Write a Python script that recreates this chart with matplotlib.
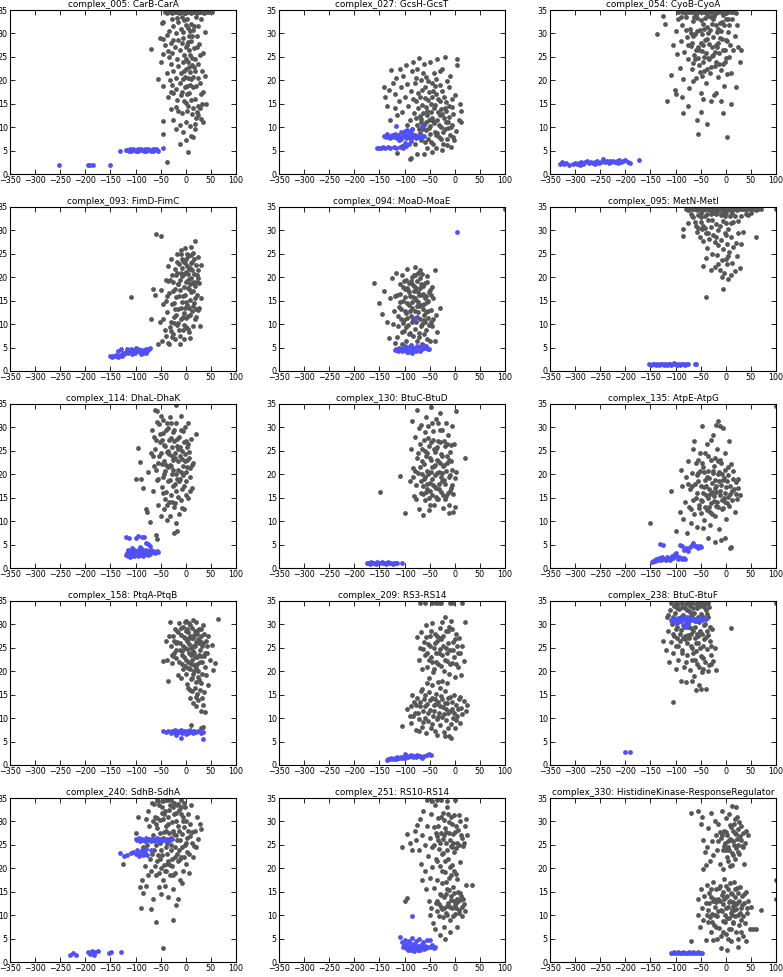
import matplotlib
matplotlib.use("Agg")
import matplotlib.pyplot as plt

titles = ["complex_005: CarB-CarA", "complex_027: GcsH-GcsT", "complex_054: CyoB-CyoA",
          "complex_093: FimD-FimC", "complex_094: MoaD-MoaE", "complex_095: MetN-MetI",
          "complex_114: DhaL-DhaK", "complex_130: BtuC-BtuD", "complex_135: AtpE-AtpG",
          "complex_158: PtqA-PtqB", "complex_209: RS3-RS14", "complex_238: BtuC-BtuF",
          "complex_240: SdhB-SdhA", "complex_251: RS10-RS14", "complex_330: HistidineKinase-ResponseRegulator"]

x_ticks = [-350, -300, -250, -200, -150, -100, -50, 0, 50, 100]
y_ticks = [0, 5, 10, 15, 20, 25, 30, 35]

gray_005 = [(-42,34.5),(-38,34.4),(-35,34.6),(-30,34.5),(-27,34.4),(-24,34.5),(-20,34.6),(-17,34.5),(-14,34.4),(-10,34.5),(-7,34.6),(-4,34.5),(-1,34.4),(2,34.5),(5,34.6),(8,34.5),(11,34.4),(14,34.5),(17,34.6),(20,34.5),(23,34.4),(26,34.5),(29,34.6),(33,34.5),(37,34.4),(42,34.5),(47,34.6),(52,34.5),
 (-48,32.3),(-45,32.5),(-52,29),(-45,28.8),(-38,29.6),(-33,30.5),(-30,28),(-25,31.5),(-20,30),(-15,32.5),(-10,31),(-5,30.2),(0,31.8),(3,33),(6,29.5),(10,32),(14,30.7),(20,33.5),(25,31.5),(30,33),(38,30.4),
 (-42,27.5),(-35,26.3),(-28,25.8),(-22,27),(-18,24.5),(-12,26.5),(-8,28),(-3,25.5),(2,27.5),(7,26.5),(11,28.3),(16,26.8),(22,27),(28,25.5),(35,25.8),(-70,26.6),(-50,23.8),
 (-45,25.7),(-30,23.5),(-25,22),(-20,20.5),(-15,23),(-10,21.5),(-5,23.8),(0,22.5),(5,24),(8,21.8),(12,23.2),(18,22),(24,23.5),(32,22),(38,21),(-55,20.2),(-45,18.8),(-38,21.5),(-32,20),(-27,19),(-20,18.2),(-12,19.5),(-6,20.2),(-1,18.5),(4,20.5),(9,19),(15,20.6),(20,18.8),(28,19.5),(35,17.5),
 (-35,16.5),(-25,17.2),(-18,15.7),(-10,16.8),(-3,15.5),(3,17),(10,15.8),(18,16),(25,14.6),(32,15),(40,15),(-30,13.8),(-20,14.2),(-8,13),(2,13.5),(12,12.8),(22,13.3),(30,11.8),(-25,11.5),(-12,10.5),(0,11),(8,10.3),(18,10.6),(34,11),(-45,11.3),(-45,8.5),(-5,9),(10,8.2),(-12,6.5),(0,7.2),(15,8),(5,4.8),(-38,2.6),(-20,9.5),(25,12.5),
 (-8,33.5),(-3,32.8),(4,31.2),(8,30.5),(12,29.5),(16,31.5),(-6,29),(0,27),(5,28.2),(9,25.5),(13,24.8),(17,22.8),(1,24.5),(-4,22),(6,22.8),(10,20.2),(14,18.5),(-2,20.8),(3,18.8),(7,17.2),(-7,17.5),(0,15.2),(5,14.5),(15,14),(20,12),(-15,28.5),(-18,33.3),(-25,28.5),(22,29.5),(27,27.8),(18,24.5),(24,20.5),(30,17),(-28,33),(-2,34.3),(-33,25),(19,9.5),(28,14),(-30,17.5),(-15,13.5)]
blue_005 = [(-252,1.9),(-195,1.9),(-190,1.9),(-185,1.9),(-150,1.9),(-130,5.0),(-120,5.1),(-117,5.2),(-114,5.0),(-111,5.3),(-108,5.1),(-105,5.4),(-102,5.2),(-99,5.0),(-96,5.3),(-93,5.1),(-90,5.4),(-87,5.2),(-84,5.0),(-81,5.3),(-78,5.1),(-75,5.4),(-72,5.2),(-69,5.0),(-66,5.3),(-63,5.1),(-60,5.4),(-57,5.2),(-55,5.0),(-45,5.5),(-110,4.9),(-95,4.9),(-80,4.9),(-65,4.9)]

gray_027 = [(-138,16.5),(-135,14.5),(-130,18),(-127,22.3),(-124,19.5),(-120,17),(-117,20.5),(-115,12.5),(-112,15.5),(-110,22.5),(-108,18.5),(-105,13.3),(-103,21),(-100,16.5),(-98,23.2),(-95,19.3),(-93,14.5),(-90,11.5),(-88,17.8),(-86,22),(-84,24),(-82,13),(-80,19.5),(-78,15.5),(-76,10.5),(-75,22.5),(-73,17.3),(-71,24.7),(-70,12.3),(-68,20),(-66,14.8),(-65,18),(-63,9.5),(-62,23.5),(-60,16.3),(-58,11.2),(-57,20.8),(-55,13.5),(-54,7.5),(-52,17.5),(-50,24),(-49,10.2),(-48,15),(-46,19.5),(-45,12),(-44,6.3),(-42,21.5),(-41,14),(-40,9),(-38,17),(-36,11.5),(-35,24.5),(-33,13.2),(-32,7.8),(-30,19),(-29,15.5),(-28,10),(-26,22.5),(-25,12.8),(-24,6.5),(-22,16.5),(-20,9.5),(-19,25),(-18,13.5),(-16,7.5),(-15,19.8),(-13,11),(-12,14.5),(-10,8.3),(-9,21),(-8,5.8),(-6,16),(-5,10.5),(-3,12.8),(-2,7.2),(0,16.8),(2,9.2),(4,24.5),(5,23.2),(8,11.5),(10,15),(12,13.5),(13,11.2),(-90,3.3),(-88,3.5),(-115,4.5),(-105,6),(-75,4.2),(-62,4.2),(-55,5.5),(-45,4.8),(-85,9.5),(-70,8.8),(-60,6.8),(-50,8.5),(-35,8.7),(-25,5.2),(-15,6.2),(-80,6.5),(-95,10.5),(-128,11.5),(-140,18.5),(-120,14),(-58,14.3),(-45,16.5),(-37,20.3),(-68,11),(-52,11.5),(-42,10.8),(-30,12.5),(-20,14),(-5,14.2),
 (-78,12),(-74,14),(-72,9.5),(-69,16.5),(-67,11.8),(-64,13),(-61,10.5),(-59,18.5),(-56,12.5),(-53,15.8),(-51,9.8),(-47,13.3),(-44,17.8),(-43,11.3),(-39,14.8),(-37,8.3),(-34,16),(-31,10.5),(-27,13.8),(-23,9),(-21,12),(-17,15.3),(-14,9.8),(-11,12.2),(-7,10),(-4,7.8),(-67,7.3),(-57,9.3),(-47,6.8),(-38,5.5),(-28,7.5),(-18,11),(-83,16),(-77,20.5),(-64,21.5),(-53,19.8),(-40,18.8),(-30,22),(-25,17.8),(-12,18.5)]
blue_027 = [(-140,8.2),(-137,7.8),(-134,8.5),(-131,8.0),(-128,7.6),(-125,8.3),(-122,7.9),(-119,8.6),(-116,7.7),(-113,8.4),(-110,8.0),(-107,7.5),(-104,8.7),(-101,8.1),(-98,7.7),(-95,8.4),(-92,8.0),(-89,7.6),(-86,8.5),(-83,7.9),(-80,8.3),(-77,7.7),(-74,8.2),(-71,8.0),(-68,8.4),(-65,7.9),(-62,8.1),(-108,9.0),(-100,9.2),(-90,9.0),(-85,9.5),(-95,9.3),(-118,10.3),(-65,10.2),(-112,7.2),(-88,7.1),(-155,5.5),(-150,5.6),(-146,5.5),(-142,5.7),(-138,5.6),(-133,5.8),(-128,5.6),(-122,5.7),(-117,5.5),(-110,5.8),(-103,5.6),(-97,5.9),(-92,6.3),(-100,6.6)]

gray_054 = [(-95,34.5),(-88,34.5),(-82,34.4),(-76,34.5),(-70,34.6),(-65,34.5),(-60,34.4),(-55,34.5),(-50,34.6),(-45,34.5),(-40,34.4),(-35,34.5),(-30,34.6),(-25,34.5),(-20,34.4),(-15,34.5),(-10,34.6),(-5,34.5),(0,34.4),(5,34.5),(10,34.6),(15,34.5),(20,34.4),
 (-137,29.8),(-125,33.8),(-122,32.1),(-118,15.5),(-105,27.5),(-100,30.5),(-98,25.7),(-95,33),(-92,22.7),(-90,28.3),(-88,31.8),(-85,20.2),(-83,26),(-80,33.5),(-78,29.2),(-76,24.5),(-74,18.3),(-72,31),(-70,27.3),(-68,22.5),(-66,32.7),(-64,25.5),(-62,29.8),(-60,20.5),(-58,33.2),(-56,27),(-54,23.3),(-52,30.7),(-50,17.2),(-48,26.2),(-46,32),(-44,22),(-42,28.5),(-40,19.5),(-38,31.3),(-36,24.7),(-34,27.8),(-32,21.5),(-30,33.5),(-28,25.2),(-26,29.3),(-24,16.8),(-22,23),(-20,31.8),(-18,27.2),(-16,20.8),(-14,25.8),(-12,29),(-10,22.3),(-8,32.5),(-6,26.5),(-4,18.7),(-2,24),(0,28.7),(2,21.3),(4,30.3),(6,25),(8,27.5),(10,21.5),(12,33),(15,26.5),(18,29.5),(20,18.5),(22,31.8),(25,27),(28,23.9),(30,26.4),(-100,17),(-102,18),(-88,16.5),(-85,13),(-75,14.5),(-65,19.8),(-55,8.5),(-58,11.5),(-50,13.2),(-45,16),(-38,10.7),(-30,15.5),(-20,17.3),(-10,15.5),(-5,13),(3,8),(10,15),(-70,30),(-60,26.5),(-45,24),(-35,30),(-25,33),(-15,31),(-5,34),(5,33),(-80,30.8),(-90,33.5),(-110,21.2),(-50,28),(-40,25.8),(-20,27.5),(0,24.8),(-65,23.7),(-30,22.8),
 (-68,28),(-63,33.5),(-61,24.5),(-57,30.5),(-53,26.5),(-49,32.8),(-47,29.8),(-43,25),(-41,33.3),(-37,28.8),(-33,24.5),(-31,30.8),(-27,27),(-23,33.8),(-21,26),(-17,30.3),(-13,23.5),(-11,32.3),(-7,28.8),(-3,31.8),(-1,26.5),(3,28.3),(7,31.8),(-65,29.5),(-55,24.7),(-45,27.5),(-35,33.8),(-25,25.3),(-15,28),(-5,23.5),(-75,27.5),(-52,21.8),(-38,22.5),(-20,23.8),(-9,30.5),(-59,34),(-44,31),(-28,32),(1,33),(-48,21)]
blue_054 = [(-330,2.2),(-327,2.5),(-322,2.1),(-318,2.3),(-312,2.0),(-305,2.2),(-300,2.4),(-296,2.1),(-292,2.3),(-288,2.6),(-284,2.2),(-280,2.5),(-276,2.7),(-272,2.4),(-268,2.6),(-264,2.3),(-260,2.5),(-256,2.8),(-252,2.4),(-248,2.6),(-244,3.1),(-240,2.5),(-236,2.7),(-232,2.4),(-228,2.6),(-224,2.8),(-220,2.5),(-216,2.7),(-212,2.9),(-208,2.6),(-204,2.8),(-200,3.0),(-195,2.6),(-190,2.4),(-172,2.9),(-290,2.0),(-260,2.2),(-230,2.8),(-215,2.4)]

gray_093 = [(-110,15.7),(-60,29.2),(-50,28.8),(-70,11),(-65,17.5),(-62,16.3),(-48,6.5),(-55,5.8),(-52,10.5),(-45,14.3),(-42,8.7),(-40,19.5),(-38,12.5),(-36,6),(-35,22.5),(-33,16.7),(-32,9.3),(-30,24),(-28,14.2),(-27,7.2),(-25,19),(-24,11.6),(-22,21.8),(-21,6.8),(-20,15.8),(-18,25),(-17,9.8),(-16,18.5),(-15,13.2),(-14,22.8),(-12,7.5),(-11,17.3),(-10,25.8),(-9,11),(-8,20.3),(-7,14.8),(-6,8.7),(-5,23.5),(-4,18),(-3,12.3),(-2,26.3),(-1,16.2),(0,9.3),(1,21.2),(2,14),(3,19.3),(4,24.6),(5,11.8),(6,17.5),(7,8.3),(8,22),(9,15.2),(10,26.5),(11,19.8),(12,12.7),(13,23.2),(14,17),(15,9.5),(16,20.7),(17,14.6),(18,27.8),(19,18.2),(20,22.7),(21,11.5),(22,16.3),(23,20.5),(24,24.3),(25,13),(26,18.8),(28,9.7),(30,22.6),(30,15.6),(-50,17.2),(-45,11),(-40,15),(-35,19.2),(-30,10.5),(-25,8),(-20,12),(-15,18.5),(-10,21),(-5,16),(0,19),(5,20.8),(10,23),(-28,20.5),(-18,23.3),(-8,24),(2,25),(-12,5.8),(-3,6.8),(8,7),(-33,5.7),(-22,17.5),(-1,13.5),(15,25.2),(20,13.3),(-40,7.5),(6,13.5),(-15,10.3),(25,19.8),(12,21.5),
 (-23,14.5),(-19,20.5),(-13,16),(-9,13.5),(-7,22),(-3,20.8),(0,14.8),(3,22.5),(4,17.8),(7,19.7),(9,12),(11,24.8),(14,13.8),(16,23.8),(18,11),(22,19),(-26,17),(-21,13.3),(-17,21),(-11,19.5),(-6,11.5),(-2,23),(1,11.3),(6,21.8),(13,18.8),(19,15.5),(24,21.5),(27,13.5),(-29,8.5),(-23,10.3),(-14,8.8),(-4,9.8),(5,9),(-37,16),(-31,19.5),(10,16.8),(17,19),(-9,25),(0,24),(8,18.5)]
blue_093 = [(-150,3.2),(-147,3.0),(-144,3.3),(-141,3.1),(-138,3.4),(-135,3.0),(-132,3.3),(-129,3.5),(-126,3.1),(-123,3.6),(-135,4.2),(-128,4.6),(-120,4.0),(-118,4.6),(-115,3.8),(-112,4.3),(-110,4.8),(-107,4.0),(-104,4.5),(-101,3.8),(-98,4.2),(-95,4.7),(-92,4.1),(-89,4.5),(-86,3.9),(-83,4.4),(-80,4.8),(-77,4.2),(-74,4.6),(-71,4.9),(-100,4.9),(-90,3.7),(-108,3.6),(-125,3.9),(-80,3.8)]

gray_094 = [(-160,18.7),(-150,14.5),(-145,12.2),(-140,17),(-135,10.5),(-130,7),(-128,15.5),(-125,19.8),(-122,12.8),(-120,6),(-118,21),(-116,16.3),(-114,9.5),(-112,13.7),(-110,18.5),(-108,11),(-106,20.5),(-104,15),(-102,8.5),(-100,17.6),(-98,12.3),(-96,21.8),(-95,14.5),(-93,9.8),(-91,18.8),(-90,16),(-88,11.7),(-86,20),(-85,13.5),(-83,7.5),(-82,17),(-80,22.3),(-78,10.5),(-77,15.2),(-75,19.3),(-73,12.5),(-72,8.2),(-70,17.8),(-68,14),(-66,20.8),(-65,10),(-63,16.5),(-61,12),(-60,18.7),(-58,8.8),(-56,14.7),(-55,20.2),(-53,11.3),(-51,16.8),(-50,6.5),(-48,13),(-46,18),(-45,9.5),(-43,15.5),(-40,21.5),(-40,6.5),(-38,12),(-35,8.3),(-30,13.5),(-115,7.2),(-105,5.8),(-97,6.5),(-87,5.5),(-75,6.3),(-65,5.8),(-55,6.8),(-110,14.8),(-100,12.7),(-92,14),(-84,15.8),(-76,13.8),(-70,11.2),(-62,14.3),(-54,12.8),(-47,16.3),(-120,16),(-102,19.3),(-94,17.2),(-86,10.5),(-80,12.8),(-72,16.2),(-67,18.5),(-57,16),(-124,10),(-89,8.2),(-79,20.5),(-69,21.5),(-59,10.5),(-44,11),(-103,10.2),(-81,18.2),(-64,13.2),(-74,14.8),(100,34.5),
 (-109,16.5),(-107,13.3),(-104,18),(-101,10.8),(-99,15.7),(-97,19.5),(-95,11.3),(-92,16.8),(-90,12.8),(-88,19.3),(-86,14.8),(-84,11),(-82,20.5),(-80,15.5),(-78,17.8),(-76,11.5),(-74,21),(-72,13.8),(-70,19.8),(-68,9.5),(-66,16.3),(-64,18.2),(-62,10.8),(-60,15.5),(-58,12.5),(-56,19),(-54,15),(-52,9.8),(-50,17.3),(-48,10.5),(-113,11.8),(-106,8.3),(-98,9.3),(-91,7.8),(-80,9),(-71,7.2),(-62,8),(-96,17.8),(-85,18.5),(-73,16.8)]
blue_094 = [(-120,4.5),(-117,4.8),(-114,4.3),(-111,5.0),(-108,4.6),(-105,4.2),(-102,4.9),(-99,4.4),(-96,5.1),(-93,4.0),(-90,4.7),(-87,5.3),(-84,4.5),(-81,5.0),(-78,4.3),(-75,5.4),(-72,4.8),(-69,5.2),(-66,4.6),(-63,5.5),(-60,4.9),(-57,5.3),(-54,4.7),(-51,4.6),(-95,4.0),(-85,3.9),(-100,5.3),(-70,4.2),(5,29.7),(-80,11.3)]

gray_095 = [(-80,34.5),(-75,34.4),(-70,34.5),(-65,34.6),(-62,34.5),(-58,34.4),(-55,34.5),(-52,34.6),(-48,34.5),(-45,34.4),(-42,34.5),(-38,34.6),(-35,34.5),(-32,34.4),(-28,34.5),(-25,34.6),(-22,34.5),(-18,34.4),(-15,34.5),(-12,34.6),(-8,34.5),(-5,34.4),(-2,34.5),(2,34.6),(5,34.5),(8,34.4),(12,34.5),(15,34.6),(18,34.5),(22,34.4),(25,34.5),(30,34.6),(35,34.5),(40,34.4),(45,34.5),(50,34.6),(55,34.5),(60,34.4),(65,34.5),(70,34.5),
 (-85,30.3),(-85,28.8),(-75,31.5),(-70,33.5),(-65,32.8),(-60,31),(-58,29.6),(-55,33.2),(-52,28.7),(-50,31.8),(-48,30.2),(-45,27.7),(-45,22.4),(-42,33),(-40,24.2),(-40,29.4),(-38,26.3),(-35,32.2),(-33,28.2),(-30,30.7),(-30,21.5),(-28,25),(-25,33.7),(-25,29.1),(-22,27.5),(-22,22.2),(-20,31.3),(-18,24.7),(-15,26.8),(-15,30),(-12,21.6),(-10,33.2),(-10,28),(-8,23.6),(-5,26),(-5,32),(-3,21),(-2,29.5),(0,24),(0,31.5),(2,27),(3,22.8),(5,30.3),(5,19.6),(7,25.5),(8,33),(10,20.5),(10,28.5),(12,23),(15,26.5),(15,31.8),(18,21.3),(20,27.3),(22,24.5),(25,32),(28,22),(30,27),(35,29.7),(40,33.5),(-5,17.5),(-40,15.7),(60,28.5),(45,33.2),(-20,33.5),(0,33.8),(-50,33.8),(100,34.5),(-30,33.5),(-15,22.8),(5,24.5),(-8,20),(12,33.8),
 (-68,33),(-62,31.8),(-55,30.5),(-50,32.8),(-45,31),(-38,33.5),(-35,29.5),(-28,32.3),(-20,28.5),(-12,31),(-8,33.8),(0,29),(-2,33),(10,31.5),(18,33),(25,29.5),(-18,33.8),(30,33),(50,33.8),(-42,30.5)]
blue_095 = [(-152,1.5),(-148,1.3),(-145,1.5),(-142,1.4),(-139,1.2),(-136,1.5),(-133,1.3),(-130,1.6),(-127,1.4),(-124,1.2),(-121,1.5),(-118,1.3),(-115,1.6),(-112,1.4),(-109,1.3),(-106,1.5),(-103,1.7),(-100,1.4),(-97,1.2),(-94,1.5),(-91,1.3),(-88,1.6),(-85,1.4),(-82,1.3),(-79,1.5),(-75,1.4),(-60,1.5),(-62,1.6)]

gray_114 = [(-100,19),(-95,25.6),(-92,22.6),(-90,19),(-85,17),(-80,12.5),(-78,12),(-72,9.8),(-60,7),(-57,6.2),(-62,33.8),(-20,34.7),(20,28.7),(15,22.5),(-75,20.5),(-70,24.5),(-68,29.5),(-65,16.5),(-63,21.8),(-60,27.3),(-58,31.2),(-56,13.5),(-55,19),(-53,24),(-51,28.5),(-50,11),(-48,22.3),(-47,17.3),(-45,31.5),(-44,26.3),(-42,14.8),(-41,20.8),(-40,29.5),(-38,24.8),(-37,10.2),(-35,18.5),(-34,27.3),(-32,22),(-31,32.3),(-30,15.5),(-28,25.8),(-27,20),(-25,29),(-24,13),(-22,23.5),(-21,18),(-20,31),(-18,26),(-17,8),(-16,21),(-15,15.2),(-13,28),(-12,23.8),(-11,19),(-10,32.5),(-8,25),(-7,16.8),(-6,21.8),(-5,29.3),(-3,12.5),(-2,24.3),(0,18.5),(1,27),(2,21.5),(4,31),(5,15),(6,24.8),(8,19.5),(10,27.5),(12,22),(13,17),(-52,26.8),(-43,22.8),(-36,29.8),(-26,23),(-19,16.5),(-9,20.5),(-1,22.8),(7,23.5),(-33,14),(-23,27),(-14,11.5),(-4,17.5),(-46,19.5),(-29,31),(-39,16.3),(-66,23.8),(-54,30.8),(-62,25.5),(-20,9.5),(-23,7.5),(-44,12.5),(-15,25.5),(-30,21.8),(-10,14.5),(3,25.8),(-48,27.3),(-25,17.5),(-35,25),(-58,18.8),
 (-49,24.5),(-46,28.8),(-43,20),(-41,26),(-39,22),(-37,31),(-35,21.5),(-33,24.3),(-31,18.8),(-29,27.8),(-27,23.8),(-25,21),(-23,29.5),(-21,24.5),(-19,20),(-17,27.5),(-15,22.8),(-13,18.5),(-11,25.8),(-9,29.5),(-7,23.3),(-5,19.8),(-3,26.8),(-1,30),(1,20.5),(3,23),(5,26.5),(8,21.3),(-45,16),(-38,13.5),(-32,11),(-27,14),(-22,13.8),(-18,19),(-8,12.8),(-55,22.5),(-60,21),(-64,28),(-57,33.5),(-50,32.5),(0,15.5),(9,16.5)]
blue_114 = [(-120,2.7),(-118,3.3),(-116,2.5),(-115,3.8),(-113,3.0),(-111,2.4),(-110,3.5),(-108,2.8),(-106,4.0),(-105,3.2),(-103,2.6),(-101,3.7),(-100,2.9),(-98,3.4),(-96,2.5),(-95,3.9),(-93,3.1),(-91,2.7),(-90,3.6),(-88,4.1),(-86,3.0),(-85,2.6),(-83,3.5),(-81,2.9),(-80,3.8),(-78,3.3),(-76,2.7),(-75,3.6),(-72,3.0),(-70,3.9),(-68,3.4),(-65,3.7),(-62,3.1),(-58,3.6),(-55,3.4),(-120,6.7),(-113,6.4),(-100,6.5),(-95,6.9),(-88,6.7),(-84,6.7),(-80,5.3),(-76,5.2),(-72,4.8),(-108,4.3),(-92,4.4)]

gray_130 = [(-148,16.3),(-110,19.7),(-100,11.8),(20,23.5),(-90,18.5),(-88,25.5),(-85,31.3),(-83,21.3),(-81,15.3),(-80,28),(-78,17.8),(-76,23.5),(-75,33.8),(-73,20.2),(-71,12.5),(-70,26.5),(-68,16),(-67,30.5),(-65,22.8),(-63,11.3),(-62,19),(-60,25),(-59,14.5),(-58,32.3),(-56,20.7),(-55,16.8),(-53,27.8),(-52,12.3),(-50,23.5),(-49,18.2),(-48,34.3),(-46,21.5),(-45,15.5),(-44,29.3),(-42,25.5),(-41,13.5),(-40,19.8),(-38,31.8),(-37,17),(-36,23),(-34,27),(-33,14.8),(-31,20.5),(-30,33),(-28,24.3),(-27,16.2),(-26,29.5),(-24,21.8),(-23,12.8),(-21,18.8),(-20,26),(-18,31),(-17,15.3),(-15,22.5),(-14,28.3),(-12,19.5),(-11,13.5),(-9,24.8),(-8,17),(-6,30.2),(-5,21),(-3,15.8),(-2,26.5),(0,19.3),(1,13),(2,33.5),(-64,17.5),(-57,23.8),(-47,26.8),(-39,22),(-32,18),(-25,20.2),(-16,24),(-10,16.5),(-72,29.8),(-54,30.2),(-43,17.8),(-35,25.8),(-29,22.5),(-19,14.8),(-66,20),(-51,15),(-61,27.3),(-33,31),(-22,27),(-7,22.8),(-77,14.8),(-84,19.5),(-12,11.8),(-4,12),(3,20.5),(-26,18.5),(-40,24.8),(-56,18),(-48,20.5),(-37,15.2),
 (-69,21.5),(-67,18.5),(-65,25.5),(-63,15.8),(-61,22.3),(-59,19.5),(-57,16.3),(-55,24.5),(-53,20),(-51,26),(-49,16.5),(-47,23),(-45,19),(-43,27.3),(-41,21.8),(-39,17.3),(-37,25.5),(-35,20.3),(-33,22.8),(-31,16.8),(-29,26.8),(-27,19.5),(-25,23.8),(-23,15.5),(-21,22),(-19,18),(-17,20.8),(-15,26.5),(-13,16),(-11,23),(-9,19.8),(-74,24.5),(-79,20.8),(-7,26.3),(-5,17.8),(-60,29),(-45,31),(-30,29.5),(-50,13.5),(-35,14.8)]
blue_130 = [(-175,1.0),(-172,1.1),(-169,0.9),(-166,1.2),(-163,1.0),(-160,1.1),(-157,0.9),(-154,1.2),(-151,1.0),(-148,1.1),(-145,1.3),(-142,1.0),(-139,1.1),(-136,0.9),(-133,1.2),(-130,1.0),(-127,1.1),(-124,0.9),(-121,1.0),(-118,1.1),(-115,1.0),(-106,1.0)]

gray_135 = [(-150,9.5),(-110,16.5),(-90,21),(-100,8),(-92,12),(-88,17.5),(-85,10.5),(-82,14),(-80,19.5),(-78,7.5),(-76,22.8),(-74,13),(-72,16.8),(-70,9.5),(-68,20.3),(-66,25.3),(-65,14.5),(-63,11.5),(-61,18),(-60,22.5),(-58,8.8),(-57,16),(-55,20.2),(-53,12.8),(-52,24.5),(-50,17.5),(-48,30.3),(-47,14.3),(-45,21.5),(-43,10.2),(-42,18.8),(-40,15.5),(-38,26.5),(-37,12.3),(-35,20.7),(-34,16.8),(-32,9.2),(-30,23),(-29,13.8),(-27,18.2),(-26,28.3),(-24,15.3),(-23,21.8),(-21,11),(-20,17.5),(-18,25.5),(-17,14),(-15,20),(-14,8.3),(-12,16.5),(-11,30.2),(-9,22.5),(-8,12.5),(-6,18.8),(-5,29.8),(-3,15),(-2,21),(0,10.5),(1,17.3),(3,13.8),(5,19.8),(6,27),(8,15.8),(10,4.5),(11,22.3),(13,16.5),(15,20.8),(18,12),(20,18.3),(22,14.7),(25,17),(28,15.5),(-45,8.5),(-36,6.5),(-22,5.5),(-10,6),(-2,6.3),(8,4.2),(-70,12.5),(-58,19.8),(-50,14.5),(-44,17.3),(-38,19.5),(-31,15.8),(-25,20.3),(-19,13.3),(-13,18.6),(-7,14.5),(-1,16),(4,15.2),(-63,27),(-55,23),(-28,11.5),(-16,22.8),(-41,24.5),(-33,13),(-22,17),(-8,20),(-30,27.3),(-15,31.4),(-20,30.5),(100,34.5),
 (-59,15),(-56,18.5),(-54,13.5),(-51,20.8),(-49,11.8),(-46,16),(-44,20.5),(-41,13),(-39,17.5),(-36,15),(-33,19.3),(-31,12),(-28,16.3),(-26,20.8),(-23,14.3),(-21,18.8),(-19,16.3),(-16,13),(-13,20.5),(-11,15.5),(-9,17.8),(-6,12.8),(-4,19.3),(-1,14),(2,18.5),(4,21.5),(7,13.2),(9,17.5),(12,14.5),(14,19),(17,16.8),(21,15.8),(24,19),(-48,22.5),(-35,24),(-22,23.5),(-12,23),(-2,24.5),(-67,17.5),(-75,18)]
blue_135 = [(-147,1.3),(-144,1.6),(-141,1.4),(-138,1.9),(-135,1.7),(-132,2.1),(-129,1.8),(-126,2.3),(-123,2.0),(-120,1.7),(-117,2.4),(-114,2.1),(-111,1.8),(-108,2.5),(-105,2.2),(-102,3.0),(-99,2.6),(-96,2.0),(-93,2.3),(-90,2.1),(-87,1.9),(-84,2.2),(-82,1.9),(-130,5.2),(-125,5.0),(-100,3.3),(-92,4.9),(-88,4.6),(-84,3.8),(-80,4.2),(-76,3.7),(-72,4.5),(-68,5.0),(-65,5.4),(-62,4.6),(-58,4.8),(-55,4.3),(-52,4.6),(-50,4.4)]

gray_158 = [(-45,22.2),(-40,26.5),(-38,22.5),(-35,18),(-32,30.6),(-30,25.3),(-28,21.8),(-26,27.5),(-24,24),(-22,29),(-20,22.8),(-18,26.3),(-16,19.3),(-14,30.2),(-12,24.5),(-10,27.8),(-8,21.5),(-6,29.5),(-5,25.3),(-3,23),(-1,27),(0,19.5),(1,30.8),(3,24.8),(4,22),(5,28.3),(7,25.8),(8,20.5),(9,29.8),(10,23.5),(12,27),(13,18.5),(14,31),(15,24.3),(16,21.3),(18,28.5),(19,25.5),(20,17.8),(21,30.5),(22,23),(24,26.8),(25,20),(26,29),(28,24.5),(29,22),(30,27.5),(32,19.5),(33,25.3),(35,29.8),(37,23.3),(38,21),(40,26.5),(42,24),(45,27.5),(48,22.5),(52,25.7),(55,20.2),(58,21.8),(65,31.2),(-20,26),(-8,24.3),(2,26.5),(11,25),(17,23.8),(23,28),(6,30.2),(-2,21.2),(27,26),(-15,28.3),(13,22.5),(-25,23.2),(31,23.3),(0,28.7),(5,16.5),(8,14.2),(12,15.8),(15,13.2),(18,16.5),(20,12.5),(22,15.2),(25,13.8),(28,16),(30,11.5),(32,14.3),(34,12.7),(36,15.5),(25,18.8),(10,18.3),(3,17.2),(38,11.3),(35,8.2),(10,8.5),(30,8),(-10,18.5),(45,17),(40,19.3),(-5,20.5),(20,20.8),(15,27.2),
 (-19,24.5),(-17,28.5),(-13,22),(-11,26),(-9,29.3),(-7,23.5),(-4,27.3),(-2,25),(0,22.5),(2,29),(4,26.8),(6,23.8),(8,27.5),(10,21.5),(12,29.3),(14,25.5),(16,27.8),(17,20),(19,23),(21,26.3),(23,21.5),(25,28.8),(27,23.5),(29,26.5),(31,29),(33,22),(35,26),(37,28),(39,23.8),(43,25.5),(-23,26.5),(-28,23.5),(-33,27.5),(5,20.8),(15,19.5),(20,14.5),(27,18.2),(8,16),(31,17.5),(-2,30.5)]
blue_158 = [(-45,7.2),(-40,7.1),(-35,7.3),(-30,6.8),(-27,7.2),(-24,7.0),(-21,7.4),(-18,6.9),(-15,7.2),(-12,7.0),(-10,7.5),(-7,6.8),(-4,7.3),(-1,7.0),(2,7.2),(5,6.9),(8,7.4),(11,7.1),(14,6.8),(17,7.3),(20,7.0),(25,7.2),(30,6.9),(35,7.1),(35,5.5),(-10,5.7),(-20,6.5),(0,6.7)]

gray_209 = [(-75,27.3),(-72,22.5),(-70,25),(-68,28.3),(-65,20.5),(-62,26.3),(-60,23.5),(-58,29.8),(-55,21),(-53,25.8),(-51,18.5),(-50,27.5),(-48,23),(-46,30.3),(-44,19.8),(-42,25),(-40,28),(-38,22),(-36,26.5),(-34,17.8),(-32,24),(-30,29.3),(-28,21.2),(-27,26.8),(-25,23.5),(-23,27.5),(-21,20),(-20,31.5),(-18,25),(-16,22.3),(-14,28.5),(-12,19.5),(-10,24.5),(-8,30.8),(-6,21.8),(-4,26.3),(-2,23),(0,18.8),(2,28),(4,25.3),(6,21),(8,27),(10,23.8),(12,19.3),(15,25.5),(18,22.3),(20,30.5),(-42,20.5),(-30,24.8),(-18,28.5),(-5,29),(-52,22.5),(-35,27.5),(-15,24),
 (-95,12),(-90,10.5),(-88,9),(-85,15),(-82,13.5),(-80,11),(-78,7.5),(-75,14.3),(-72,9.8),(-70,12.5),(-68,15.8),(-66,8.2),(-64,11.5),(-62,14),(-60,10),(-58,6.8),(-56,13),(-54,9.3),(-52,15.5),(-50,11.8),(-48,8),(-46,14.3),(-44,10.5),(-42,12.8),(-40,7.3),(-38,15.2),(-36,9.8),(-34,13.5),(-32,11.2),(-30,8.5),(-28,14.7),(-26,10.3),(-24,12.3),(-22,7),(-20,15.8),(-18,9.5),(-16,13.3),(-14,11),(-12,6.2),(-10,14.5),(-8,8.8),(-6,12),(-4,10),(-2,15),(0,7.8),(2,12.8),(5,10.5),(8,14),(10,9),(12,12.2),(15,10.8),(18,13.7),(22,11.5),(25,12.7),(-20,6.2),(-8,5.7),(-105,8.3),(-65,16.3),(-45,17),(-30,16.5),(-15,17.5),(-55,17.5),(-25,18),
 (-70,34.5),(-60,34.5),(-45,34.5),(-38,34.5),(-32,34.5),(-27,34.5),(-10,34.5),(-3,34.5),(15,34.5),
 (-64,24.8),(-57,27.3),(-49,25.3),(-45,22),(-39,26),(-33,21.5),(-29,27),(-24,25.5),(-19,22.5),(-13,26),(-9,21.5),(-3,24.5),(1,26.8),(7,24),(-26,30.5),(-11,29.5),(-37,23.8),(-47,28.5),(-56,24),(3,21.5),
 (-87,12.5),(-83,10.5),(-77,12.8),(-73,11),(-69,13.5),(-63,9.2),(-59,12.5),(-53,11),(-49,13.8),(-45,8.8),(-41,11.5),(-37,13),(-33,10.3),(-29,12.5),(-25,14),(-21,10.8),(-17,12),(-13,14.3),(-9,11.5),(-5,13.5),(-1,11.2),(3,9.5),(7,12),(11,14.5),(-60,15),(-40,14),(-20,13.2),(-71,7.3),(-35,6.5),(-14,8)]
blue_209 = [(-135,1.1),(-132,1.3),(-129,1.2),(-126,1.4),(-123,1.2),(-120,1.5),(-117,1.3),(-114,1.6),(-111,1.4),(-108,1.7),(-105,1.5),(-102,1.8),(-99,1.6),(-96,2.0),(-93,1.7),(-90,1.9),(-87,2.1),(-84,1.8),(-81,2.0),(-78,1.7),(-75,2.2),(-72,1.9),(-69,2.0),(-66,1.6),(-62,1.9),(-55,2.2),(-52,2.4),(-48,2.2),(-100,2.3),(-115,1.8)]

gray_238 = [(-110,34.5),(-100,34.5),(-95,34.3),(-88,34.5),(-80,34.4),(-75,34.5),(-68,34.5),(-60,34.4),(-55,34.5),(-48,34.5),(-42,34.4),(-35,34.5),
 (-125,26.5),(-120,24.5),(-118,31.5),(-115,28.5),(-113,22),(-111,33),(-110,26.3),(-108,30),(-106,23.8),(-105,13.5),(-104,27.5),(-102,32.5),(-100,20.5),(-99,25.3),(-97,29.5),(-95,22.5),(-94,33.3),(-92,26.5),(-90,18),(-89,28.8),(-87,24),(-85,32),(-84,21),(-82,26.8),(-80,30),(-79,17.8),(-77,23.5),(-75,27.8),(-74,32.8),(-72,20.3),(-70,25.5),(-69,29.3),(-67,22.5),(-65,33.5),(-64,19),(-62,27),(-60,24.3),(-59,30.7),(-57,21.5),(-55,26),(-54,17),(-52,28.5),(-50,23.3),(-49,32.3),(-47,19.8),(-45,25.5),(-44,29.8),(-42,22),(-40,27.3),(-39,16.3),(-37,24.7),(-35,31.5),(-33,21.3),(-32,26.5),(-30,23.5),(-28,29),(-25,22.3),(-22,25),(-20,20.3),(10,29.3),(-60,16),(-50,16.2),(-45,20.5),(-75,29.5),(-68,25),(-85,27),(-95,30.5),(-58,28),(-38,28.5),(-82,33.5),(-115,32),(-90,31.5),(-70,32.5),(-55,31.5),(-40,33),(-65,23.8),(-48,23),(-100,29),(-105,31.5),(-78,26),(-43,26.8),(-60,26),(-53,21),(100,34.5),
 (-98,33.5),(-93,31),(-91,28),(-87,33.8),(-84,29.5),(-81,27.5),(-78,33),(-76,30.2),(-73,27),(-71,34),(-69,31.8),(-66,28.5),(-63,32.5),(-61,29.5),(-58,33.5),(-56,27.5),(-53,30.5),(-51,34),(-48,28),(-46,31.5),(-44,33.8),(-41,30),(-38,32.3),(-36,27.8),(-34,33.8),(-31,29.5),(-29,25.5),(-103,34),(-97,27),(-88,24.5),(-80,22),(-70,28),(-62,22.5),(-52,25),(-46,22.8),(-36,20),(-30,21.5),(-106,28),(-95,25.5),(-67,18)]
blue_238 = [(-110,31.0),(-107,30.8),(-104,31.3),(-101,31.0),(-98,30.6),(-95,31.4),(-92,31.0),(-89,30.7),(-86,31.5),(-83,31.1),(-80,30.8),(-77,31.6),(-74,30.9),(-71,31.2),(-68,31.0),(-65,31.4),(-62,30.7),(-59,31.2),(-56,31.0),(-53,30.9),(-50,31.3),(-47,31.0),(-43,31.2),(-40,31.1),(-85,29.8),(-80,29.5),(-75,30.0),(-100,30.2),(-200,2.8),(-190,2.8)]

gray_240 = [(-125,21),(-100,27.5),(-95,31),(-90,11.5),(-70,11.3),(-60,8.5),(-25,9),(-45,3),(-20,12.2),(-92,16),(-88,17.5),(-85,14.8),(-82,20.5),(-80,16.3),(-78,25),(-75,32.3),(-73,29),(-72,22),(-70,19.5),(-68,34),(-66,27),(-65,13.5),(-63,24),(-61,31),(-60,18.5),(-58,28.5),(-57,21.5),(-55,34.3),(-54,16),(-52,25.5),(-51,30.2),(-50,20),(-48,33),(-47,22.8),(-46,17.5),(-44,27.8),(-43,31.5),(-42,19.5),(-40,24.5),(-39,34.5),(-38,21),(-36,29.5),(-35,13.8),(-34,26.3),(-33,32.5),(-31,18.5),(-30,23.8),(-29,34.5),(-27,20.5),(-26,28),(-25,15.5),(-23,31.5),(-22,24.5),(-21,19),(-19,27),(-18,33.5),(-16,21.5),(-15,29),(-13,24),(-12,17.5),(-10,31.5),(-9,22.5),(-7,27.3),(-5,19.5),(-4,34),(-2,25),(0,21),(1,30),(3,23.5),(5,28),(7,19),(10,33.5),(12,25.5),(15,22.5),(18,28),(20,24.5),(22,31),(25,26.2),(28,29.5),(30,28.3),(-85,24.5),(-80,30.5),(-64,33.8),(-56,26),(-45,30.5),(-37,25.5),(-28,22),(-20,30),(-11,26),(-3,28.8),(-68,23),(-52,22),(-40,28),(-32,20.8),(-24,34),(-14,32.5),(-6,31),(8,26.8),(-75,18.5),(-62,20.5),(-50,14.5),(-42,16.3),(-30,26.5),(-17,23),(-8,16.8),(2,26.5),(-58,34.5),(-45,34.3),(-35,34.6),(-10,34.5),(-60,29.5),(-35,21.5),(-15,13.5),(-25,18.5),
 (-59,25),(-57,30.8),(-55,22.8),(-53,33.5),(-51,27.5),(-49,23.8),(-47,31.8),(-45,26.5),(-43,20.8),(-41,32.3),(-39,29),(-37,23),(-35,31),(-33,27.5),(-31,33.5),(-29,25),(-27,29.8),(-25,33),(-23,27.3),(-21,22.5),(-19,31.8),(-17,26),(-15,33.8),(-13,28),(-11,22),(-9,33),(-7,24.5),(-5,30),(-3,22.5),(-1,33),(1,25.5),(4,31.5),(6,23),(9,29.5),(13,27.8),(16,24.8),(-65,30),(-70,26),(-54,19),(-40,19.5)]
blue_240 = [(-100,26.2),(-97,26.0),(-94,26.4),(-91,25.8),(-88,26.3),(-85,26.1),(-82,25.9),(-79,26.4),(-76,26.0),(-73,26.2),(-70,25.8),(-67,26.3),(-64,26.1),(-61,25.9),(-58,26.4),(-55,26.0),(-52,26.2),(-49,25.9),(-46,26.3),(-43,26.0),(-40,26.2),(-37,25.9),(-34,26.1),(-31,26.0),(-28,26.2),
 (-130,23.2),(-123,22.7),(-118,22.8),(-110,23.3),(-105,23.5),(-100,23.0),(-97,23.8),(-94,22.6),(-91,23.3),(-88,24.0),(-86,22.9),(-84,23.6),(-82,23.2),(-80,24.2),(-78,22.8),(-70,23.8),
 (-230,1.4),(-225,1.9),(-218,1.6),(-195,2.2),(-190,1.8),(-186,2.3),(-183,1.6),(-180,2.1),(-175,2.3),(-153,2.0),(-148,2.2),(-128,2.2)]

gray_251 = [(-105,24.5),(-100,13),(-95,27.3),(-95,13.7),(-90,25.5),(-85,24),(-80,28),(-77,26),(-75,29.3),(-72,23.8),(-70,30.5),(-68,21),(-66,17.5),(-65,27),(-63,32.3),(-60,25),(-60,19.5),(-58,15.5),(-55,34.5),(-55,29),(-53,22.7),(-52,13),(-50,26.5),(-50,18),(-48,31.5),(-47,11.5),(-45,24.5),(-45,20.3),(-43,8.3),(-42,28.8),(-41,15.8),(-40,33.5),(-38,22),(-37,12.5),(-36,26.8),(-35,17.5),(-33,30.7),(-32,9.8),(-31,24.2),(-30,14.5),(-29,20.5),(-28,34.5),(-27,27.5),(-26,11.3),(-25,16.8),(-24,31.8),(-23,23.3),(-22,7.5),(-21,13.8),(-20,28.5),(-19,19.2),(-18,25.5),(-17,10.5),(-16,33),(-15,15.5),(-14,22),(-13,12.5),(-12,29.8),(-11,18),(-10,26),(-9,9),(-8,14),(-7,31),(-6,20.7),(-5,11.5),(-4,27.3),(-3,16),(-2,13),(-1,23.5),(0,34.5),(1,10.3),(2,29),(3,18.8),(4,12.8),(5,25.3),(6,15),(8,31.3),(9,11),(10,21.3),(12,27),(13,14),(15,9.8),(16,24.8),(18,12.3),(20,29),(22,16.5),(24,27.2),(35,16.5),(-35,34.5),(-45,34.3),(-15,34.4),(-30,5.8),(-20,5),(-10,6.5),(5,7.5),(-50,10),(-40,7),(-25,23),(-5,24.5),(-35,13),(-15,12),(-28,11.8),(0,12.2),(-20,21.5),(-8,18.5),(-42,25),(-22,27),(-33,26),(10,13.2),
 (-38,27.5),(-34,29),(-30,25.5),(-27,31),(-24,26.3),(-21,30.3),(-18,27.8),(-15,24),(-13,31.5),(-11,27.5),(-8,24.8),(-6,29.5),(-3,25.5),(-1,31.3),(1,27.8),(3,24.3),(6,28.2),(9,25),(11,30),(14,26.5),(18,25.5),(22,30.5),(-35,10.8),(-31,12.3),(-27,14.3),(-24,9.5),(-21,11.5),(-18,14.5),(-15,10),(-12,15.3),(-10,11.8),(-7,13.3),(-4,9.8),(-1,14.8),(2,11.5),(5,13.5),(8,10.5),(11,14.8),(14,11.8),(17,13.5),(20,10.8),(-25,19.5),(-18,17),(-10,20.3),(-2,19.5),(5,17.8),(-35,21.5)]
blue_251 = [(-110,5.3),(-105,4.2),(-103,3.2),(-100,4.7),(-98,2.9),(-96,3.8),(-94,2.6),(-92,4.5),(-90,3.3),(-88,2.5),(-86,3.9),(-85,5.2),(-84,3.0),(-82,2.4),(-80,3.6),(-78,4.4),(-76,2.8),(-74,3.4),(-72,4.9),(-70,2.6),(-68,3.7),(-66,3.1),(-64,4.2),(-62,2.7),(-60,3.5),(-58,3.0),(-56,4.6),(-54,3.3),(-50,4.8),(-48,3.2),(-45,3.7),(-42,3.0),(-40,3.1),(-85,9.8),(-95,3.1),(-89,2.8),(-79,3.0),(-73,2.5),(-101,3.6)]

gray_330 = [(-70,31.8),(-55,32.3),(-50,29.5),(-48,31),(-45,26),(-42,23.5),(-40,20.7),(-38,24.5),(-35,28.5),(-32,21.5),(-30,31.8),(-28,25.8),(-25,22.8),(-22,30),(-20,27.2),(-18,24),(-15,29.5),(-12,21),(-10,26.5),(-8,32.3),(-6,23.8),(-4,28),(-2,25.5),(0,30.8),(2,22.5),(3,27),(5,24.5),(6,31.5),(8,20.5),(9,26.2),(10,28.8),(12,23.3),(13,33.3),(15,25.8),(16,29.5),(18,22),(19,27.5),(20,24.3),(22,31),(23,26.3),(25,28.3),(26,23),(28,26.8),(30,29),(32,24.8),(34,27.5),(36,21),(38,25.5),(40,28),(45,27),(-5,19.8),(5,21.5),(12,20.8),(20,33),(-45,19.8),(15,22.8),(8,29.3),(25,25),(0,24),(-15,25.8),
 (-55,10),(-55,13.5),(-52,7.5),(-50,15.5),(-48,11.5),(-45,9),(-43,14),(-40,4.8),(-40,12.5),(-38,16.5),(-36,8.5),(-35,11),(-33,14.8),(-30,6.5),(-28,10.3),(-26,13),(-25,17),(-24,8),(-22,11.8),(-20,15.5),(-18,5),(-17,9.8),(-15,13.5),(-13,7.3),(-12,16.3),(-10,11),(-9,3),(-8,14.3),(-6,8.8),(-5,12.3),(-3,17.8),(-2,10),(0,6),(0,13.8),(2,2.5),(2,9.3),(4,15.5),(5,11.8),(6,7),(8,13),(9,16.8),(10,10.5),(11,4.5),(12,14.5),(14,8.3),(15,12),(16,17),(18,9.8),(19,13.8),(20,6.5),(21,11.3),(22,15.8),(24,3.2),(24,10),(26,13),(27,7.8),(28,16),(30,11.5),(31,9),(33,14),(35,5.5),(36,12.5),(38,8.3),(40,15),(42,10.5),(45,13),(48,7),(50,11.8),(55,7),(60,7),(70,11.2),(-70,4.5),(-10,5.5),(5,5),(25,5),(40,4.5),(-25,4.8),(12,11),(-5,15),(20,12.3),(0,16.3),(-30,13.8),(100,17.5),(100,13.5),
 (-8,27),(-3,24.8),(1,27.8),(4,25.8),(7,23.8),(11,26),(14,28),(17,25),(21,27.3),(24,23.5),(27,29.8),(31,26),(35,24.5),(-12,27.8),(18,30.5),
 (-37,10),(-34,12.5),(-31,9.5),(-29,15.5),(-27,8.5),(-23,13.5),(-21,10),(-19,12.8),(-16,10.8),(-14,15.8),(-11,13),(-7,10.8),(-4,13.5),(-1,8.5),(1,11.5),(3,14),(6,12.8),(7,9.3),(10,14.8),(13,10),(14,12.8),(17,11),(19,15.5),(23,12.5),(25,14.8),(28,10.5),(32,12.2),(34,9.8),(37,14.5),(43,11.5),(-20,7.5),(-5,6.5),(10,7),(30,6.3),(15,8.5)]
blue_330 = [(-110,2.0),(-107,2.0),(-104,2.1),(-101,1.9),(-98,2.0),(-95,2.1),(-92,1.9),(-89,2.0),(-86,2.1),(-83,1.9),(-80,2.0),(-77,2.0),(-74,2.1),(-71,1.9),(-68,2.0),(-65,2.1),(-62,1.9),(-59,2.0),(-56,2.1),(-53,1.9),(-50,2.0),(-47,2.0)]

gray_sets = [gray_005, gray_027, gray_054, gray_093, gray_094, gray_095, gray_114, gray_130,
             gray_135, gray_158, gray_209, gray_238, gray_240, gray_251, gray_330]
blue_sets = [blue_005, blue_027, blue_054, blue_093, blue_094, blue_095, blue_114, blue_130,
             blue_135, blue_158, blue_209, blue_238, blue_240, blue_251, blue_330]

W, H = 783, 977
fig = plt.figure(figsize=(W / 100, H / 100), dpi=100, facecolor="white")

col_left = [10, 279, 550]
ax_w, ax_h = 226, 164
row_top = [10, 207, 404, 601, 798]

GRAY = "#575757"
BLUE = "#5050f5"

for i, title in enumerate(titles):
    r, c = divmod(i, 3)
    left = col_left[c] / W
    bottom = 1 - (row_top[r] + ax_h) / H
    ax = fig.add_axes([left, bottom, ax_w / W, ax_h / H])
    g = gray_sets[i]
    b = blue_sets[i]
    ax.scatter([p[0] for p in g], [p[1] for p in g], s=12, c=GRAY, linewidths=0, zorder=2)
    ax.scatter([p[0] for p in b], [p[1] for p in b], s=12, c=BLUE, linewidths=0, zorder=3)
    ax.set_xlim(-350, 100)
    ax.set_ylim(0, 35)
    ax.set_xticks(x_ticks)
    ax.set_yticks(y_ticks)
    ax.tick_params(direction="in", top=True, right=True, labelsize=5.8, length=3.5, width=0.6, pad=1.5)
    for sp in ax.spines.values():
        sp.set_linewidth(0.8)
    ax.set_title(title, fontsize=6.4, pad=2)

fig.savefig("out.png", dpi=100, facecolor="white")
